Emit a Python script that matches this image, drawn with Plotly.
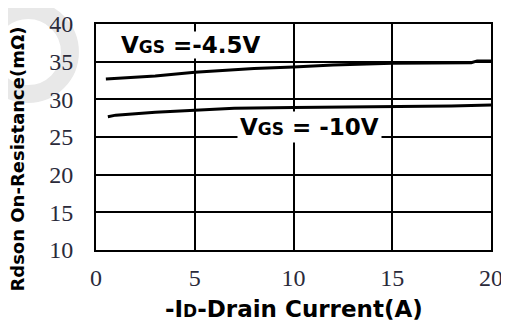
import plotly.graph_objects as go

# Data
x_45 = [0.5, 3, 5, 8, 10, 12, 15, 19, 19.3, 20]
r_45 = [32.7, 33.1, 33.6, 34.1, 34.3, 34.55, 34.8, 34.85, 35.1, 35.1]
x_10 = [0.6, 1, 3, 5, 7, 10, 15, 18, 20]
r_10 = [27.7, 27.9, 28.3, 28.6, 28.8, 28.9, 29.0, 29.1, 29.25]
x_ticks = [0, 5, 10, 15, 20]
y_ticks = [10, 15, 20, 25, 30, 35, 40]

fig = go.Figure()
fig.add_trace(go.Scatter(x=x_45, y=r_45, mode="lines",
                         line=dict(color="black", width=3), showlegend=False))
fig.add_trace(go.Scatter(x=x_10, y=r_10, mode="lines",
                         line=dict(color="black", width=3), showlegend=False))

tick_font = dict(family="Liberation Serif", size=24, color="#2a2a3a")
bold = "DejaVu Sans"

fig.update_xaxes(range=[0, 20], tickvals=x_ticks, ticktext=[str(v) for v in x_ticks],
                 showgrid=True, gridcolor="black", gridwidth=2,
                 showline=True, linecolor="black", linewidth=2, mirror=True,
                 zeroline=False, ticks="", tickfont=tick_font, ticklabelstandoff=5,
                 automargin=False)
fig.update_yaxes(range=[10, 40], tickvals=y_ticks, ticktext=[str(v) for v in y_ticks],
                 showgrid=True, gridcolor="black", gridwidth=2,
                 showline=True, linecolor="black", linewidth=2, mirror=True,
                 zeroline=False, ticks="", tickfont=tick_font, ticklabelstandoff=16,
                 automargin=False)

# faint watermark fragment at the top-left corner (paper coordinates)
fig.add_shape(type="circle", xref="paper", yref="paper",
              x0=-0.278, x1=-0.066, y0=0.69, y1=1.062,
              line=dict(color="#e8e8e8", width=18), fillcolor="rgba(0,0,0,0)",
              layer="below")

# axis titles
fig.add_annotation(x=0.5, y=0, xref="paper", yref="paper", yshift=-59,
                   showarrow=False, yanchor="middle",
                   text="<b>-I<span style='font-size:17px'>D</span>-Drain Current(A)</b>",
                   font=dict(family=bold, size=23, color="black"))
fig.add_annotation(x=0, y=0.40, xref="paper", yref="paper", xshift=-78,
                   showarrow=False, textangle=-90, xanchor="center", yanchor="middle",
                   text="<b>Rdson On-Resistance(mΩ)</b>",
                   font=dict(family=bold, size=18, color="black"))

fig.add_annotation(x=4.8, y=37.15, xref="x", yref="y", showarrow=False,
                   text="<b>V<span style='font-size:17px'>GS</span> =-4.5V</b>",
                   font=dict(family=bold, size=23, color="black"),
                   bgcolor="white", borderpad=0)
fig.add_annotation(x=10.8, y=26.3, xref="x", yref="y", showarrow=False,
                   text="<b>V<span style='font-size:17px'>GS</span> = -10V</b>",
                   font=dict(family=bold, size=23, color="black"),
                   bgcolor="white", borderpad=2)

# page body has an 8px offset, so margins are shifted by 8px
fig.update_layout(width=509, height=326, margin=dict(l=88, r=26, t=16, b=84),
                  paper_bgcolor="white", plot_bgcolor="white")

fig.write_html("out.html")
